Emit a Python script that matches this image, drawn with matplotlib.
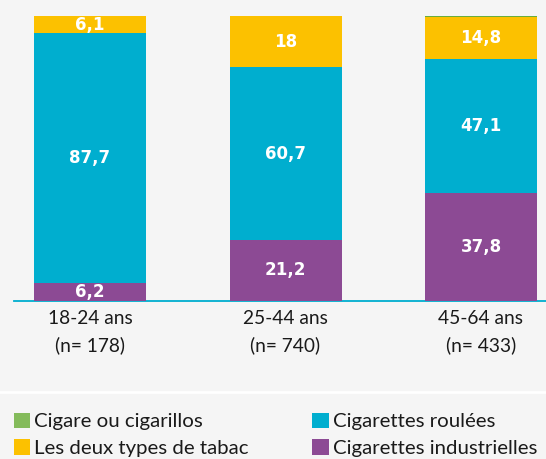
import matplotlib
matplotlib.use("Agg")
import matplotlib.pyplot as plt
from matplotlib.patches import Patch
import numpy as np

categories = ["18-24 ans\n(n= 178)", "25-44 ans\n(n= 740)", "45-64 ans\n(n= 433)"]
industrielles = [6.2, 21.2, 37.8]
roulees = [87.7, 60.7, 47.1]
deux_types = [6.1, 18, 14.8]
cigare = [0.0, 0.0, 0.6]

series_names = ["Cigarettes industrielles", "Cigarettes roulées", "Les deux types de tabac", "Cigare ou cigarillos"]
series_vals = [industrielles, roulees, deux_types, cigare]
colors = ["#8C4A94", "#00AECF", "#FCC100", "#6AAD3D"]
legend_colors = {"Cigare ou cigarillos": "#84BB5B", "Cigarettes roulées": "#00AECF",
                 "Les deux types de tabac": "#FCC100", "Cigarettes industrielles": "#8C4A94"}

bg = "#F5F5F5"
W, H = 546, 459
fig = plt.figure(figsize=(W/100, H/100), dpi=100, facecolor=bg)
x0 = 14
c0 = 90
base = 300.5
top = 16.0
ax = fig.add_axes([x0/W, (H-base)/H, 1 - x0/W, (base-top)/H])
ax.set_facecolor(bg)

x = np.arange(len(categories))
px_per_unit = 195.5
width = 112/px_per_unit
bottom = np.zeros(len(categories))
for name, vals, c in zip(series_names, series_vals, colors):
    vals = np.array(vals, dtype=float)
    ax.bar(x, vals, width, bottom=bottom, color=c, zorder=3, linewidth=0)
    if name != "Cigare ou cigarillos":
        for xi, b, v in zip(x, bottom, vals):
            lab = ("%g" % v).replace(".", ",")
            ax.text(xi, b + v/2, lab, ha="center", va="center", color="white",
                    fontsize=13.3, fontweight="bold", family="DejaVu Sans",
                    fontstretch="condensed", zorder=4)
    bottom += vals

ax.set_xlim(-(c0-x0)/px_per_unit, (W-c0)/px_per_unit)
ax.set_ylim(0, 100)
for s in ["top", "right", "left"]:
    ax.spines[s].set_visible(False)
ax.spines["bottom"].set_color("#00AECF")
ax.spines["bottom"].set_linewidth(1.3)
ax.spines["bottom"].set_zorder(2)
ax.set_yticks([])
ax.set_xticks(x)
ax.set_xticklabels(categories, fontsize=13.8, family="Lato", color="#1a1a1a", linespacing=1.62)
ax.tick_params(axis="x", length=0, pad=7.2)

# separator line
fig.add_artist(plt.Line2D([0, 1], [(H-392)/H, (H-392)/H], color="white", linewidth=2, transform=fig.transFigure))

order = ["Cigare ou cigarillos", "Les deux types de tabac", "Cigarettes roulées", "Cigarettes industrielles"]
handles = [Patch(facecolor=legend_colors[n], edgecolor="none", label=n) for n in order]
leg = fig.legend(handles=handles, loc="upper left", bbox_to_anchor=(14/W, (H-412.5)/H),
                 ncol=2, frameon=False, prop={"family": "Lato", "size": 14.7},
                 handlelength=0.8, handleheight=0.8, handletextpad=0.2, columnspacing=3.1,
                 labelspacing=0.42, borderpad=0, borderaxespad=0)
for t in leg.get_texts():
    t.set_color("#1a1a1a")

fig.savefig("out.png", dpi=100, facecolor=bg)
